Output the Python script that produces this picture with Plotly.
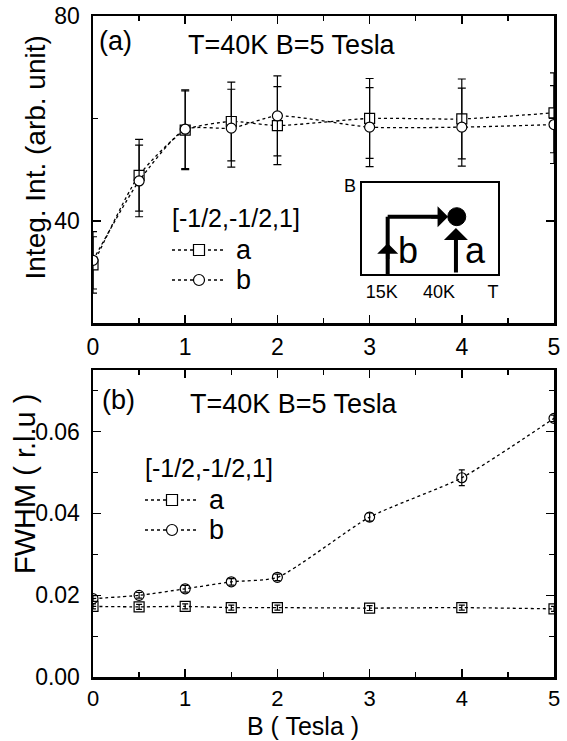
import plotly.graph_objects as go

# ---------------- data ----------------
B_tesla = [0, 0.5, 1, 1.5, 2, 3, 4, 5]

int_a = [31.4, 48.9, 57.7, 59.4, 58.6, 60.0, 59.9, 61.1]
int_a_err = [5.5, 7.0, 7.7, 7.7, 7.6, 7.8, 7.8, 7.8]
int_b = [32.3, 47.8, 57.9, 58.1, 60.5, 58.3, 58.3, 58.8]
int_b_err = [5.6, 7.0, 7.7, 7.6, 7.8, 7.7, 7.6, 7.6]

fwhm_a = [0.0173, 0.0172, 0.0173, 0.0170, 0.0170, 0.0169, 0.0170, 0.0167]
fwhm_a_err = [0.0006, 0.0006, 0.0006, 0.0006, 0.0006, 0.0006, 0.0006, 0.0006]
fwhm_b = [0.0192, 0.0200, 0.0216, 0.0233, 0.0244, 0.0391, 0.0487, 0.0632]
fwhm_b_err = [0.0007, 0.0007, 0.0008, 0.0008, 0.0008, 0.0010, 0.0019, 0.0008]

series_names = ["a", "b"]
legend_title = "[-1/2,-1/2,1]"
panel_title = "T=40K B=5 Tesla"
inset_ticks = ["15K", "40K", "T"]

FONT = "Liberation Sans, Arial, sans-serif"
W, H = 567, 741

def px(x):
    return x / W

def py(y):
    return 1 - y / H

fig = go.Figure()

line_style = dict(color="black", width=1.3, dash="dot", shape="spline", smoothing=0.6)

def add_series(x, y, err, symbol, xa, ya, fill, errw):
    fig.add_trace(go.Scatter(
        x=x, y=y, mode="lines+markers", xaxis=xa, yaxis=ya,
        line=line_style,
        marker=dict(symbol=symbol, size=10, color=fill,
                    line=dict(color="black", width=1.2)),
        error_y=dict(type="data", array=err, visible=True, color="black",
                     thickness=1.2, width=errw),
        showlegend=False, hoverinfo="skip",
    ))

# top panel
add_series(B_tesla, int_a, int_a_err, "square", "x", "y", "white", 4)
add_series(B_tesla, int_b, int_b_err, "circle", "x", "y", "white", 4)
# bottom panel
add_series(B_tesla, fwhm_a, fwhm_a_err, "square-open", "x2", "y2", "black", 3)
add_series(B_tesla, fwhm_b, fwhm_b_err, "circle-open", "x2", "y2", "black", 3)

xdom = [px(93), px(554)]
top_dom = [py(323.3), py(16)]
bot_dom = [py(677.3), py(370)]

axis_common = dict(
    showline=True, linecolor="black", linewidth=2.5, mirror="ticks",
    ticks="inside", ticklen=8, tickwidth=1.5, tickcolor="black",
    showgrid=False, zeroline=False, automargin=False,
    tickfont=dict(family=FONT, size=23, color="black"),
)

minor_common = dict(ticks="inside", ticklen=5, tickwidth=1.5, tickcolor="black")

fig.update_layout(
    width=W, height=H,
    margin=dict(l=0, r=0, t=0, b=0, pad=0, autoexpand=False),
    paper_bgcolor="white", plot_bgcolor="white",
    showlegend=False,
    font=dict(family=FONT, color="black"),
    xaxis=dict(domain=xdom, anchor="y", range=[0, 5], dtick=1, tick0=0,
               minor=dict(dtick=0.5, **minor_common), ticklabelstandoff=2,
               **axis_common),
    yaxis=dict(domain=top_dom, anchor="x", range=[20, 80], dtick=40, tick0=0,
               minor=dict(dtick=20, **minor_common), ticklabelstandoff=6,
               **axis_common),
    xaxis2=dict(domain=xdom, anchor="y2", range=[0, 5], dtick=1, tick0=0,
                minor=dict(dtick=0.5, **minor_common), ticklabelstandoff=0,
                **{**axis_common, "tickfont": dict(family=FONT, size=22, color="black")}),
    yaxis2=dict(domain=bot_dom, anchor="x2", range=[0, 0.075], dtick=0.02, tick0=0,
                tickformat=".2f", ticklabelstandoff=6,
                minor=dict(dtick=0.01, **minor_common),
                **axis_common),
    # inset diagram axes
    xaxis3=dict(domain=[px(361.7), px(497.7)], anchor="y3", range=[0, 1],
                showline=True, linecolor="black", linewidth=2, mirror=True,
                showgrid=False, zeroline=False, ticks="", automargin=False,
                tickvals=[0.147, 0.568, 0.965], ticktext=inset_ticks,
                tickfont=dict(family=FONT, size=18, color="black"),
                fixedrange=True),
    yaxis3=dict(domain=[py(274), py(183.3)], anchor="x3", range=[0, 1],
                showline=True, linecolor="black", linewidth=2, mirror=True,
                showgrid=False, zeroline=False, ticks="", automargin=False,
                tickvals=[0.97], ticktext=["B"],
                tickfont=dict(family=FONT, size=18, color="black"),
                fixedrange=True),
)

ann = []
def text(x, y, s, size, xanchor="left", yanchor="middle", angle=0, xref="paper", yref="paper"):
    ann.append(dict(x=x, y=y, xref=xref, yref=yref, text=s, showarrow=False,
                    xanchor=xanchor, yanchor=yanchor, textangle=angle,
                    font=dict(family=FONT, size=size, color="black")))

# panel labels and titles
text(px(97), py(41), "(a)", 27)
text(px(186), py(45), panel_title, 27)
text(px(100), py(400), "(b)", 27)
text(px(188), py(404), panel_title, 27)

# axis titles
text(px(35), py(157.5), "Integ. Int. (arb. unit)", 28, xanchor="center", angle=-90)
text(px(25), py(484), "FWHM ( r.l.u )", 29, xanchor="center", angle=-90)
text(px(303), py(725.5), "B ( Tesla )", 25, xanchor="center")

# manual legends
shapes = []
def legend(x0, ytitle, yrows):
    text(px(x0 - 2), py(ytitle), legend_title, 25)
    syms = ["rect", "circle"]
    for name, yr, sym in zip(series_names, yrows, syms):
        shapes.append(dict(type="line", xref="paper", yref="paper",
                           x0=px(x0), x1=px(x0 + 52), y0=py(yr), y1=py(yr),
                           line=dict(color="black", width=1.3, dash="dot")))
        shapes.append(dict(type=sym, xref="paper", yref="paper",
                           xsizemode="pixel", ysizemode="pixel",
                           xanchor=px(x0 + 27), yanchor=py(yr),
                           x0=-5.5, x1=5.5, y0=-5.5, y1=5.5,
                           fillcolor="white", line=dict(color="black", width=1.2)))
        text(px(x0 + 62), py(yr), name, 27)

legend(172, 218, [250, 280])
legend(145, 468, [500, 530])

# inset diagram (schematic B-T path)
thick = dict(color="black", width=4)
shapes.append(dict(type="line", xref="x3", yref="y3", x0=0.191, x1=0.191, y0=0, y1=0.632, line=thick))
shapes.append(dict(type="line", xref="x3", yref="y3", x0=0.191, x1=0.58, y0=0.632, y1=0.632, line=thick))
shapes.append(dict(type="circle", xref="x3", yref="y3", xsizemode="pixel", ysizemode="pixel",
                   xanchor=0.699, yanchor=0.632, x0=-9, x1=9, y0=-9, y1=9,
                   fillcolor="black", line=dict(color="black", width=1)))

def arrow(x, y, ax, ay, w=3.5):
    ann.append(dict(x=x, y=y, ax=ax, ay=ay, xref="x3", yref="y3", axref="x3", ayref="y3",
                    text="", showarrow=True, arrowhead=1, arrowsize=1.0, arrowwidth=w,
                    arrowcolor="black", standoff=0, startstandoff=0))

arrow(0.635, 0.632, 0.5, 0.632)
arrow(0.191, 0.34, 0.191, 0.15)
arrow(0.693, 0.507, 0.693, 0.0, 4)

text(0.34, 0.26, "b", 36, xanchor="center", xref="x3", yref="y3")
text(0.84, 0.26, "a", 36, xanchor="center", xref="x3", yref="y3")

fig.update_layout(annotations=ann, shapes=shapes)

# the page's default 8px body margin would shift the fixed-size figure
fig.write_html("out.html", config={"displayModeBar": False, "staticPlot": True},
               post_script="document.body.style.margin='0px';")
